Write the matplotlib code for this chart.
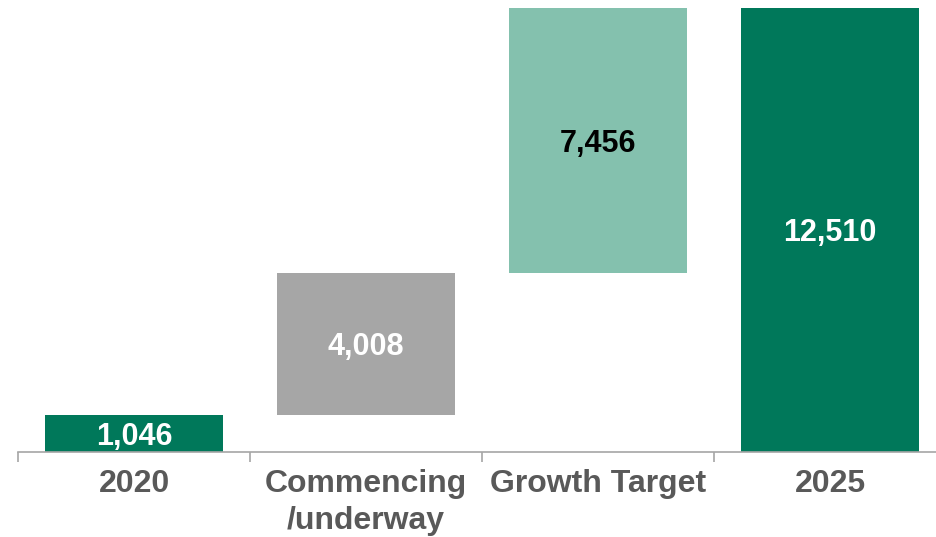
import matplotlib
matplotlib.use("Agg")
import matplotlib.pyplot as plt
from matplotlib.ticker import FixedLocator

plt.rcParams['font.family'] = ['Liberation Sans', 'DejaVu Sans']

categories = ["2020", "Commencing\n/underway", "Growth Target", "2025"]
values = [1046, 4008, 7456, 12510]
is_total = [True, False, False, True]
bar_colors = ["#00785a", "#a6a6a6", "#84c1ae", "#00785a"]
label_colors = ["white", "white", "black", "white"]

# waterfall: running bottoms for the increment bars
bottoms = []
running = 0
for v, tot in zip(values, is_total):
    if tot:
        bottoms.append(0)
        running = v
    else:
        bottoms.append(running)
        running += v

fig = plt.figure(figsize=(9.37, 5.37), dpi=100)
ax = fig.add_axes([18 / 937, (537 - 452) / 537, 928 / 937, 444 / 537])

x = list(range(len(categories)))
ax.bar(x, values, bottom=bottoms, width=0.77, color=bar_colors, linewidth=0)

for xi, v, b, c in zip(x, values, bottoms, label_colors):
    ax.text(xi, b + v / 2, f"{v:,}", ha="center", va="center_baseline",
            fontsize=22, fontweight="bold", color=c)

ax.set_xlim(-0.5, len(categories) - 0.5)
ax.set_ylim(0, 12510)

for s in ["top", "right", "left"]:
    ax.spines[s].set_visible(False)
ax.spines["bottom"].set_color("#a6a6a6")
ax.spines["bottom"].set_linewidth(1.2)
ax.yaxis.set_visible(False)

ax.set_xticks(x)
ax.set_xticklabels(categories, fontsize=23, fontweight="bold", color="#595959",
                   va="top", linespacing=1.3)
ax.tick_params(axis="x", which="major", length=0, pad=12)
ax.xaxis.set_minor_locator(FixedLocator([i - 0.5 for i in range(len(categories) + 1)]))
ax.tick_params(axis="x", which="minor", length=7.2, width=1.2, color="#a6a6a6")

fig.savefig("out.png", dpi=100)
